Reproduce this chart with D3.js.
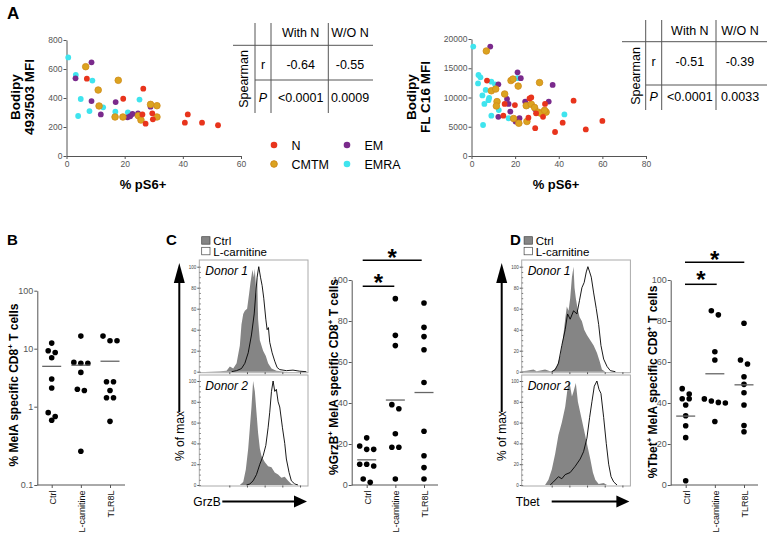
<!DOCTYPE html>
<html><head><meta charset="utf-8">
<script src="https://cdn.jsdelivr.net/npm/d3@7"></script>
<style>body{margin:0;background:#fff}svg{font-family:"Liberation Sans",Arial,sans-serif}</style>
</head><body><svg id="c" width="767" height="538"></svg>
<script>
// ---------------- DATA ----------------
// Panel A left: % pS6+ vs Bodipy 493/503 MFI
const a1_N    = [[7.0,533],[26.4,464],[19.5,395],[26.1,287],[27.2,223],[29.5,294],[29.7,253],[41.7,287],[40.7,230],[46.6,230],[52.1,212]];
const a1_CMTM = [[6.6,616],[17.8,522],[10.9,455],[28.9,356],[31.1,347],[11.2,345],[16.7,269],[19.4,269],[24.7,278],[25.6,248],[31.1,269]];
const a1_EM   = [[8.6,646],[3.1,536],[8.6,379],[16.9,372],[28.9,340],[11.8,287],[21.0,267],[21.9,274],[22.7,290],[24.6,294]];
const a1_EMRA = [[0.6,680],[3.2,559],[8.9,520],[4.9,393],[25.1,389],[12.6,336],[7.9,310],[4.0,276],[16.8,306],[16.6,272],[21.1,301]];
// Panel A right: % pS6+ vs Bodipy FL C16 MFI
const a2_N    = [[7.1,12900],[15.2,8900],[14.6,6900],[19.9,8700],[26.1,6550],[26.6,9850],[27.4,10000],[29.6,7300],[29.2,4750],[32.8,6700],[33.7,8900],[38.3,4100],[41.8,5700],[46.8,9450],[52.4,4550],[60.0,6000]];
const a2_CMTM = [[6.8,17950],[9.1,11150],[11.1,11450],[11.7,9300],[11.4,8550],[15.2,10600],[18.1,12900],[19.0,13150],[21.4,11950],[19.3,6400],[21.7,5600],[25.1,8600],[25.4,5900],[27.4,8850],[28.9,8300],[31.2,12550],[30.5,7500],[31.8,7300],[34.2,7500],[33.5,7800]];
const a2_EM   = [[8.6,18700],[12.3,12250],[12.3,6700],[16.3,9750],[17.0,8900],[17.8,7600],[21.1,14300],[22.6,13300],[20.2,5900],[22.0,6450],[24.6,9300],[29.2,8000],[35.4,9300],[37.2,12150]];
const a2_EMRA = [[0.8,18700],[3.2,13850],[4.1,13450],[3.0,12400],[9.1,12700],[10.8,12250],[6.5,11300],[5.0,10350],[8.1,9950],[7.8,9550],[5.9,8900],[12.5,7850],[9.1,6900],[5.3,5300],[21.0,13300],[17.0,6450],[25.4,8550],[42.6,7100]];
const subsets = ["N","CMTM","EM","EMRA"];
const a1Ticks_x = [0,20,40,60], a1Ticks_y = [0,200,400,600,800];
const a2Ticks_x = [0,20,40,60,80], a2Ticks_y = [0,5000,10000,15000,20000];
const tableHead = ["With N","W/O N"];
const tableA1_r = ["-0.64","-0.55"], tableA1_P = ["<0.0001","0.0009"];
const tableA2_r = ["-0.51","-0.39"], tableA2_P = ["<0.0001","0.0033"];

const groups = ["Ctrl","L-carnitine","TLR8L"];
// Panel B: % MelA specific CD8+ T cells (log)
const b_Ctrl  = [12.5,9.2,8.6,7.0,3.0,2.1,0.84,0.67,0.75];
const b_Lcar  = [16.5,5.8,5.6,5.6,3.9,2.0,1.9,0.27];
const b_TLR8L = [13.7,13.7,16.5,2.7,2.7,1.43,1.43,1.9,0.65];
const bTicks = [0.1,1,10,100];
// Panel C: %GrzB+
const c_Ctrl  = [23,19,17.4,17.4,10.1,9.3,10.1,1.3,2.9];
const c_Lcar  = [90.9,73,68,39.2,37.2,25,18.4,18.4,2.9];
const c_TLR8L = [88.8,76.9,72.4,66,50,26.2,14.3,8.5,2.9];
// Panel D: %Tbet+
const d_Ctrl  = [47,42.1,44.4,42.1,39,33.8,28.9,23.1,2.1];
const d_Lcar  = [83,85,65,61,42,40.3,41,40,31];
const d_TLR8L = [78.9,61,59,52.8,49.1,45,39,26,29];
const pctTicks = [0,20,40,60,80,100];
// Histograms [channel position (0-100 of box), % of max]
const hC1_ctrl = [[5,0],[19,0.5],[25.1,1],[28.1,5],[31.2,3],[34.3,8],[37.3,25],[38.8,45],[40.4,55],[41.9,58],[44,60],[45.9,75],[47.1,85],[48.9,97],[50.2,90],[51.1,98],[52.6,72],[53.2,95],[54.1,50],[55.7,30],[57.2,25],[58.7,20],[61.2,15],[63.3,8],[66.4,3],[70.9,1],[80.1,0]];
const hC1_lcar = [[29.7,0],[34.3,1],[38.8,3],[41.9,8],[45,18],[48,35],[50.5,55],[52,75],[53.2,90],[54.7,100],[56.3,90],[57.8,82],[59.3,70],[61.2,50],[62.4,40],[63.6,42],[64.8,28],[67,18],[69.4,10],[71.6,4],[74,2],[80.1,1],[86.2,1.5],[92.4,0.5],[98.5,0]];
const hC2_ctrl = [[37.3,0],[40.4,3],[42.8,15],[45,35],[46.5,55],[48,75],[49.5,100],[51.1,90],[52.6,70],[54.1,50],[55.7,35],[57.2,28],[60.2,22],[63.3,18],[66.4,17],[69.4,12],[72.5,10],[75.5,7],[78.6,8],[81.7,4],[84.7,1],[87.8,0]];
const hC2_lcar = [[43.4,0],[46.5,1],[49.5,4],[52.6,10],[55.7,20],[58.7,28],[61.2,38],[63.3,55],[64.8,70],[66.4,90],[67.9,100],[69.4,90],[70.9,92],[72.5,80],[74,75],[76.5,55],[78.6,40],[80.1,25],[82.6,12],[84.7,4],[87.8,1],[90.8,0]];
const hD1_ctrl = [[0,0.5],[4.6,1],[10.8,2],[13.8,0.5],[21.5,2],[26.2,0.5],[29.2,1],[32.3,5],[35.4,15],[37.8,30],[40,50],[41.5,62],[43.1,58],[44.6,70],[46.2,90],[47.7,100],[48.6,80],[49.8,70],[51.4,60],[53.2,52],[55.4,48],[57.5,40],[60,35],[63.1,30],[66.2,25],[69.2,18],[71.7,10],[73.8,2],[76.9,0]];
const hD1_lcar = [[27.7,0],[30.8,2],[33.8,8],[36.9,25],[40,40],[42.2,55],[44.6,50],[47.7,58],[50.8,55],[53.2,68],[55.4,80],[57.5,85],[59.4,95],[60.9,100],[62.5,95],[64,90],[66.2,75],[68.6,60],[70.8,45],[72.9,25],[75.4,12],[78.5,5],[81.5,1],[86.2,0]];
const hD2_ctrl = [[21.5,0],[24.6,5],[27.7,15],[30.8,30],[33.8,48],[36.9,60],[40,75],[43.1,100],[44.6,95],[46.2,85],[47.7,90],[49.8,98],[51.7,80],[53.8,70],[56.9,55],[60,40],[63.1,25],[65.5,12],[67.7,5],[70.8,1],[75.4,2],[78.5,0]];
const hD2_lcar = [[26.2,0],[29.2,3],[33.8,8],[36.9,6],[40,10],[44.6,12],[49.2,18],[53.8,25],[56.9,32],[60,45],[62.5,65],[64.6,80],[66.8,95],[69.2,100],[71.1,92],[72.9,88],[75.4,65],[77.8,40],[80,20],[82.2,8],[84.6,3],[87.7,0]];
const histTicks = [0,20,40,60,80,100];

// ---------------- DRAWING ----------------
const svg = d3.select("#c");
const FONT = "Liberation Sans, Arial, sans-serif";
const AX = "#555";
const colors = {N:"#e8341c", CMTM:"#dba320", EM:"#7a2a8c", EMRA:"#3fe4ee"};

function styleAxis(g, fs, col) {
  g.attr("font-family", FONT).attr("font-size", fs);
  g.selectAll("path,line").attr("stroke", AX);
  g.selectAll("text").attr("fill", col || "#555").attr("font-size", fs);
}
function txt(x, y, s, o = {}) {
  const t = svg.append("text").attr("x", x).attr("y", y).text(s)
    .attr("font-size", o.size || 12).attr("font-family", FONT)
    .attr("fill", o.fill || "#000").attr("text-anchor", o.anchor || "start");
  if (o.bold) t.attr("font-weight", "bold");
  if (o.italic) t.attr("font-style", "italic");
  return t;
}
function rtxt(x, y, parts, size, bold) {
  const t = svg.append("text").attr("transform", `translate(${x},${y}) rotate(-90)`)
    .attr("text-anchor", "middle").attr("font-family", FONT).attr("font-size", size);
  if (bold) t.attr("font-weight", "bold");
  let shift = 0;
  parts.forEach(p => {
    if (typeof p === "string") {
      const s = t.append("tspan").text(p).attr("font-size", size);
      if (shift) { s.attr("dy", shift); shift = 0; }
    } else {
      t.append("tspan").text(p.sup).attr("font-size", size * 0.65).attr("dy", -size * 0.38);
      shift = size * 0.38;
    }
  });
  return t;
}
function line(x1, y1, x2, y2, col, w) {
  svg.append("line").attr("x1", x1).attr("y1", y1).attr("x2", x2).attr("y2", y2)
    .attr("stroke", col || "#000").attr("stroke-width", w || 1);
}

// Panel letters
txt(7, 18.5, "A", {size: 17, bold: true});
txt(7, 245, "B", {size: 15, bold: true});
txt(166, 245, "C", {size: 15, bold: true});
txt(510, 245, "D", {size: 15, bold: true});

// ---- Scatter plots ----
function scatter(sets, xDom, xR, yDom, yR, xt, yt) {
  const x = d3.scaleLinear(xDom, xR), y = d3.scaleLinear(yDom, yR);
  const gx = svg.append("g").attr("transform", `translate(0,${yR[0]})`)
    .call(d3.axisBottom(x).tickValues(xt).tickSize(3).tickSizeOuter(0).tickPadding(2).tickFormat(d3.format("d")));
  styleAxis(gx, 8.5);
  const gy = svg.append("g").attr("transform", `translate(${xR[0]},0)`)
    .call(d3.axisLeft(y).tickValues(yt).tickSize(3).tickSizeOuter(0).tickPadding(1).tickFormat(d3.format("d")));
  styleAxis(gy, 8.5);
  ["EMRA","EM","CMTM","N"].forEach(k => {
    svg.append("g").selectAll("circle").data(sets[k]).join("circle")
      .attr("cx", d => x(d[0])).attr("cy", d => y(d[1]))
      .attr("r", k === "CMTM" ? 3.3 : 2.9)
      .attr("fill", colors[k])
      .attr("stroke", k === "CMTM" ? "#d08a18" : "none").attr("stroke-width", 0.8);
  });
}
scatter({N:a1_N, CMTM:a1_CMTM, EM:a1_EM, EMRA:a1_EMRA}, [0,60], [66.5,241], [0,800], [156,40], a1Ticks_x, a1Ticks_y);
scatter({N:a2_N, CMTM:a2_CMTM, EM:a2_EM, EMRA:a2_EMRA}, [0,80], [471.5,646], [0,20000], [156,39], a2Ticks_x, a2Ticks_y);

// Axis titles A
rtxt(20, 97, ["Bodipy"], 13.5, true);
rtxt(34, 97, ["493/503 MFI"], 13.5, true);
rtxt(416, 97, ["Bodipy"], 13.5, true);
rtxt(430, 97, ["FL C16 MFI"], 13.5, true);
txt(143, 189, "% pS6+", {size: 13, bold: true, anchor: "middle"});
txt(556, 189, "% pS6+", {size: 13, bold: true, anchor: "middle"});

// Tables
function table(o) {
  line(o.hx0, o.h1, o.hx1, o.h1, "#555", 1);
  line(o.v0, o.h2, o.hx1, o.h2, "#555", 1);
  [o.v0, o.v1, o.v2].forEach(v => line(v, o.top, v, o.bot, "#555", 1));
  const c1 = (o.v1 + o.v2) / 2 + 1, c2 = o.c2;
  txt(c1, o.yh, o.head[0], {size: 12.5, anchor: "middle"});
  txt(c2, o.yh, o.head[1], {size: 12.5, anchor: "middle"});
  txt((o.v0 + o.v1) / 2, o.yr, "r", {size: 12.5, anchor: "middle"});
  txt(c1, o.yr, o.r[0], {size: 12.5, anchor: "middle"});
  txt(c2, o.yr, o.r[1], {size: 12.5, anchor: "middle"});
  txt((o.v0 + o.v1) / 2, o.yp, "P", {size: 12.5, anchor: "middle", italic: true});
  txt(c1, o.yp, o.p[0], {size: 12.5, anchor: "middle"});
  txt(c2, o.yp, o.p[1], {size: 12.5, anchor: "middle"});
  rtxt(o.sx, o.sy, ["Spearman"], 12.5, false);
}
table({hx0:233, hx1:373, h1:45.3, h2:80, v0:255, v1:271, v2:328.3, top:23, bot:113, c2:350,
  yh:37, yr:68.5, yp:102, head:tableHead, r:tableA1_r, p:tableA1_P, sx:248, sy:79});
table({hx0:622, hx1:767, h1:41.7, h2:85, v0:645.7, v1:661.7, v2:716, top:20, bot:110, c2:740,
  yh:35, yr:66, yp:100.5, head:tableHead, r:tableA2_r, p:tableA2_P, sx:639.5, sy:76});

// Legend A
const legPos = {N:[274,145], EM:[347,145], CMTM:[274,164], EMRA:[347,164]};
subsets.forEach(k => {
  const [lx, ly] = legPos[k];
  svg.append("circle").attr("cx", lx).attr("cy", ly).attr("r", 3.3).attr("fill", colors[k])
    .attr("stroke", k === "CMTM" ? "#d08a18" : "none");
  txt(lx + 17.5, ly + 4.5, k, {size: 12.5});
});

// ---- Dot plots ----
function dotplot(vals, y, x, o) {
  const gy = svg.append("g").attr("transform", `translate(${o.ax},0)`)
    .call(d3.axisLeft(y).tickValues(o.ticks).tickSize(3).tickSizeOuter(0).tickPadding(1)
      .tickFormat(o.fmt || (d => d)));
  styleAxis(gy, 9);
  line(o.ax, o.base, o.xEnd, o.base, AX, 1);
  const gx = svg.append("g").attr("transform", `translate(0,${o.base})`)
    .call(d3.axisBottom(x).tickSize(3).tickSizeOuter(0).tickPadding(3));
  gx.select(".domain").remove();
  styleAxis(gx, 9, "#111");
  gx.selectAll("text").attr("text-anchor", "end").attr("dx", "-0.6em").attr("dy", "-0.3em")
    .attr("transform", "rotate(-90)");
  vals.forEach((arr, gi) => {
    const cx = x(groups[gi]);
    const pts = arr.map(v => ({v, py: y(v)})).sort((a, b) => a.py - b.py);
    const rows = [];
    pts.forEach(p => {
      const r = rows[rows.length - 1];
      if (r && Math.abs(p.py - r[0].py) < 5.8) r.push(p); else rows.push([p]);
    });
    rows.forEach(r => r.forEach((p, i) => p.px = cx + (i - (r.length - 1) / 2) * 7));
    svg.append("g").selectAll("circle").data(pts).join("circle")
      .attr("cx", d => d.px).attr("cy", d => d.py).attr("r", 2.8).attr("fill", "#000");
    const m = d3.mean(arr);
    line(cx - 9.5, y(m), cx + 9.5, y(m), "#666", 1.3);
  });
}
const yB = d3.scaleLog().domain([0.1, 1, 100]).range([485, 406.7, 290.7]);
const xB = d3.scalePoint(groups, [51.7, 110]);
dotplot([b_Ctrl, b_Lcar, b_TLR8L], yB, xB, {ax:37.3, base:485, xEnd:125, ticks:bTicks, fmt:d => String(d)});
rtxt(18, 385, ["% MelA specific CD8", {sup:"+"}, " T cells"], 12, true);

const yC = d3.scaleLinear([0,100],[485,280]);
const xC = d3.scalePoint(groups, [366.7, 424]);
dotplot([c_Ctrl, c_Lcar, c_TLR8L], yC, xC, {ax:351.7, base:485, xEnd:438, ticks:pctTicks});
rtxt(338, 377, ["%GrzB", {sup:"+"}, " MelA specific CD8", {sup:"+"}, " T cells"], 12, true);

const yD = d3.scaleLinear([0,100],[485,280]);
const xD = d3.scalePoint(groups, [685.7, 744]);
dotplot([d_Ctrl, d_Lcar, d_TLR8L], yD, xD, {ax:670.7, base:485, xEnd:758, ticks:pctTicks});
rtxt(656.5, 382, ["%Tbet", {sup:"+"}, " MelA specific CD8", {sup:"+"}, " T cells"], 12, true);

// significance
function sig(x1, x2, yb, ys) {
  line(x1, yb, x2, yb, "#000", 1.5);
  txt((x1 + x2) / 2, ys, "*", {size: 24, bold: true, anchor: "middle"});
}
sig(362.7, 394.3, 286.3, 290.5);
sig(362.7, 421.7, 260.3, 265.5);
sig(685, 716.7, 284.3, 287.5);
sig(685, 744.3, 262.3, 267.5);

// ---- Histograms ----
function histPanel(left, d1c, d1l, d2c, d2l, xlabel) {
  const right = left + 108.7;
  const x = d3.scaleLinear([0,100],[left,right]);
  const boxes = [{top:260, bot:372.7, y:d3.scaleLinear([0,100],[371.7,266.7]), c:d1c, l:d1l, name:"Donor 1"},
                 {top:375, bot:486, y:d3.scaleLinear([0,100],[485,381]), c:d2c, l:d2l, name:"Donor 2"}];
  boxes.forEach((b, i) => {
    const id = "clip" + Math.round(left) + i;
    svg.append("clipPath").attr("id", id).append("rect")
      .attr("x", left).attr("y", b.top).attr("width", right - left).attr("height", b.bot - b.top);
    const g = svg.append("g").attr("clip-path", `url(#${id})`);
    g.append("path").datum(b.c).attr("fill", "#858585")
      .attr("d", d3.area().x(d => x(d[0])).y0(b.y(0)).y1(d => b.y(d[1])));
    g.append("path").datum(b.l).attr("fill", "none").attr("stroke", "#000").attr("stroke-width", 0.9)
      .attr("d", d3.line().x(d => x(d[0])).y(d => b.y(d[1])));
    svg.append("rect").attr("x", left).attr("y", b.top).attr("width", right - left)
      .attr("height", b.bot - b.top).attr("fill", "none").attr("stroke", "#aaa").attr("stroke-width", 1);
    const gy = svg.append("g").attr("transform", `translate(${left},0)`)
      .call(d3.axisLeft(b.y).tickValues(histTicks).tickSize(2).tickSizeOuter(0).tickPadding(1));
    gy.select(".domain").remove();
    styleAxis(gy, 4.5, "#444");
    const gm = svg.append("g").attr("transform", `translate(${left},0)`)
      .call(d3.axisRight(b.y).ticks(20).tickSize(1.5));
    gm.select(".domain").remove(); gm.selectAll("text").remove(); gm.selectAll("line").attr("stroke", "#777");
    const xl = d3.scaleLog([1e1, 1e5], [left + 30, right - 8]);
    const gb = svg.append("g").attr("transform", `translate(0,${b.bot - 0.5})`)
      .call(d3.axisBottom(xl).ticks(4).tickSize(2));
    gb.select(".domain").remove(); gb.selectAll("text").remove(); gb.selectAll("line").attr("stroke", "#555");
    txt(left + 6, b.top + 15, b.name, {size: 12, italic: true});
  });
  // legend
  svg.append("rect").attr("x", left + 2.4).attr("y", 236.7).attr("width", 8.3).attr("height", 7.5)
    .attr("fill", "#858585").attr("stroke", "#444").attr("stroke-width", 0.7);
  svg.append("rect").attr("x", left + 2.4).attr("y", 247.3).attr("width", 8.3).attr("height", 7.5)
    .attr("fill", "#fff").attr("stroke", "#444").attr("stroke-width", 0.7);
  txt(left + 14, 244.5, "Ctrl", {size: 11.5});
  txt(left + 14, 255.8, "L-carnitine", {size: 11.5});
  const ax = left - 20;
  line(ax, 412, ax, 280, "#000", 2);
  svg.append("path").attr("d", `M${ax - 5.5},${283} L${ax},${263} L${ax + 5.5},${283} Z`).attr("fill", "#000");
  rtxt(ax + 4.5, 436, ["% of max"], 12, false);
  txt(left - 6, 506, xlabel, {size: 12});
  const x0 = left + (xlabel === "GrzB" ? 23 : 30), x1 = right - 1;
  line(x0, 501.5, x1 - 12, 501.5, "#000", 2);
  svg.append("path").attr("d", `M${x1 - 13},${495.5} L${x1},${501.5} L${x1 - 13},${507.5} Z`).attr("fill", "#000");
}
histPanel(199.3, hC1_ctrl, hC1_lcar, hC2_ctrl, hC2_lcar, "GrzB");
histPanel(521.7, hD1_ctrl, hD1_lcar, hD2_ctrl, hD2_lcar, "Tbet");
</script></body></html>
